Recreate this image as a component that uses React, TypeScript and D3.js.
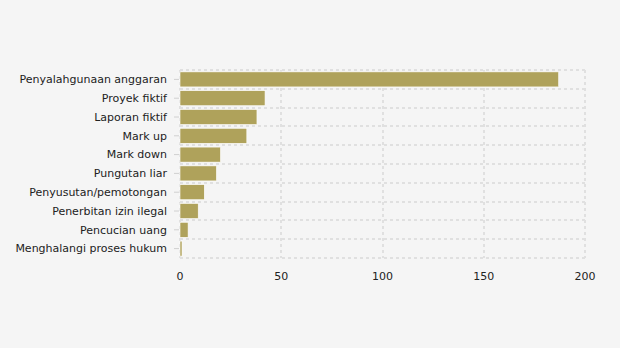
import React from "react";
import * as d3 from "d3";

const categories = [
  "Penyalahgunaan anggaran",
  "Proyek fiktif",
  "Laporan fiktif",
  "Mark up",
  "Mark down",
  "Pungutan liar",
  "Penyusutan/pemotongan",
  "Penerbitan izin ilegal",
  "Pencucian uang",
  "Menghalangi proses hukum",
];
const values = [187, 42, 38, 33, 20, 18, 12, 9, 4, 1];
const xTicks = [0, 50, 100, 150, 200];

const W = 620;
const H = 348;
const margin = { left: 180, right: 35, top: 70, bottom: 90 };

export default function App() {
  const x = d3.scaleLinear().domain([0, 200]).range([margin.left, W - margin.right]);
  const y = d3
    .scaleBand<string>()
    .domain(categories)
    .range([margin.top, H - margin.bottom])
    .paddingInner(0.2)
    .paddingOuter(0.1);
  const step = y.step();
  const top = margin.top;
  const bottom = H - margin.bottom;
  const font = "'DejaVu Sans', Verdana, sans-serif";
  const grid = "#e0e0e0";

  return (
    <div style={{ position: "fixed", left: 0, top: 0, width: W, height: H, background: "#f5f5f5" }}>
      <svg width={W} height={H} style={{ display: "block" }}>
        <rect x={0} y={0} width={W} height={H} fill="#f5f5f5" />
        {d3.range(categories.length + 1).map((i) => (
          <line
            key={"h" + i}
            x1={x(0)}
            x2={x(200)}
            y1={Math.round(top + i * step)}
            y2={Math.round(top + i * step)}
            stroke={grid}
            strokeWidth={2}
            strokeDasharray="3,3"
          />
        ))}
        {xTicks.map((t) => (
          <line
            key={"v" + t}
            x1={Math.round(x(t))}
            x2={Math.round(x(t))}
            y1={top}
            y2={bottom}
            stroke={grid}
            strokeWidth={2}
            strokeDasharray="3,3"
          />
        ))}
        {categories.map((c) => (
          <line
            key={"t" + c}
            x1={x(0) - 6}
            x2={x(0) - 1}
            y1={(y(c) as number) + y.bandwidth() / 2}
            y2={(y(c) as number) + y.bandwidth() / 2}
            stroke="#d0d0d0"
          />
        ))}
        {categories.map((c, i) => (
          <rect
            key={"b" + c}
            x={x(0)}
            y={y(c)}
            width={x(values[i]) - x(0)}
            height={y.bandwidth()}
            fill="#afa25b"
            stroke="#ffffff"
            strokeWidth={0.6}
          />
        ))}
        {categories.map((c) => (
          <text
            key={"l" + c}
            x={x(0) - 13}
            y={(y(c) as number) + y.bandwidth() / 2}
            dy="0.35em"
            textAnchor="end"
            fontFamily={font}
            fontSize={11}
            fill="#222"
          >
            {c}
          </text>
        ))}
        {xTicks.map((t) => (
          <text
            key={"x" + t}
            x={x(t)}
            y={bottom + 18}
            dy="0.35em"
            textAnchor="middle"
            fontFamily={font}
            fontSize={11}
            fill="#222"
          >
            {t}
          </text>
        ))}
      </svg>
    </div>
  );
}
